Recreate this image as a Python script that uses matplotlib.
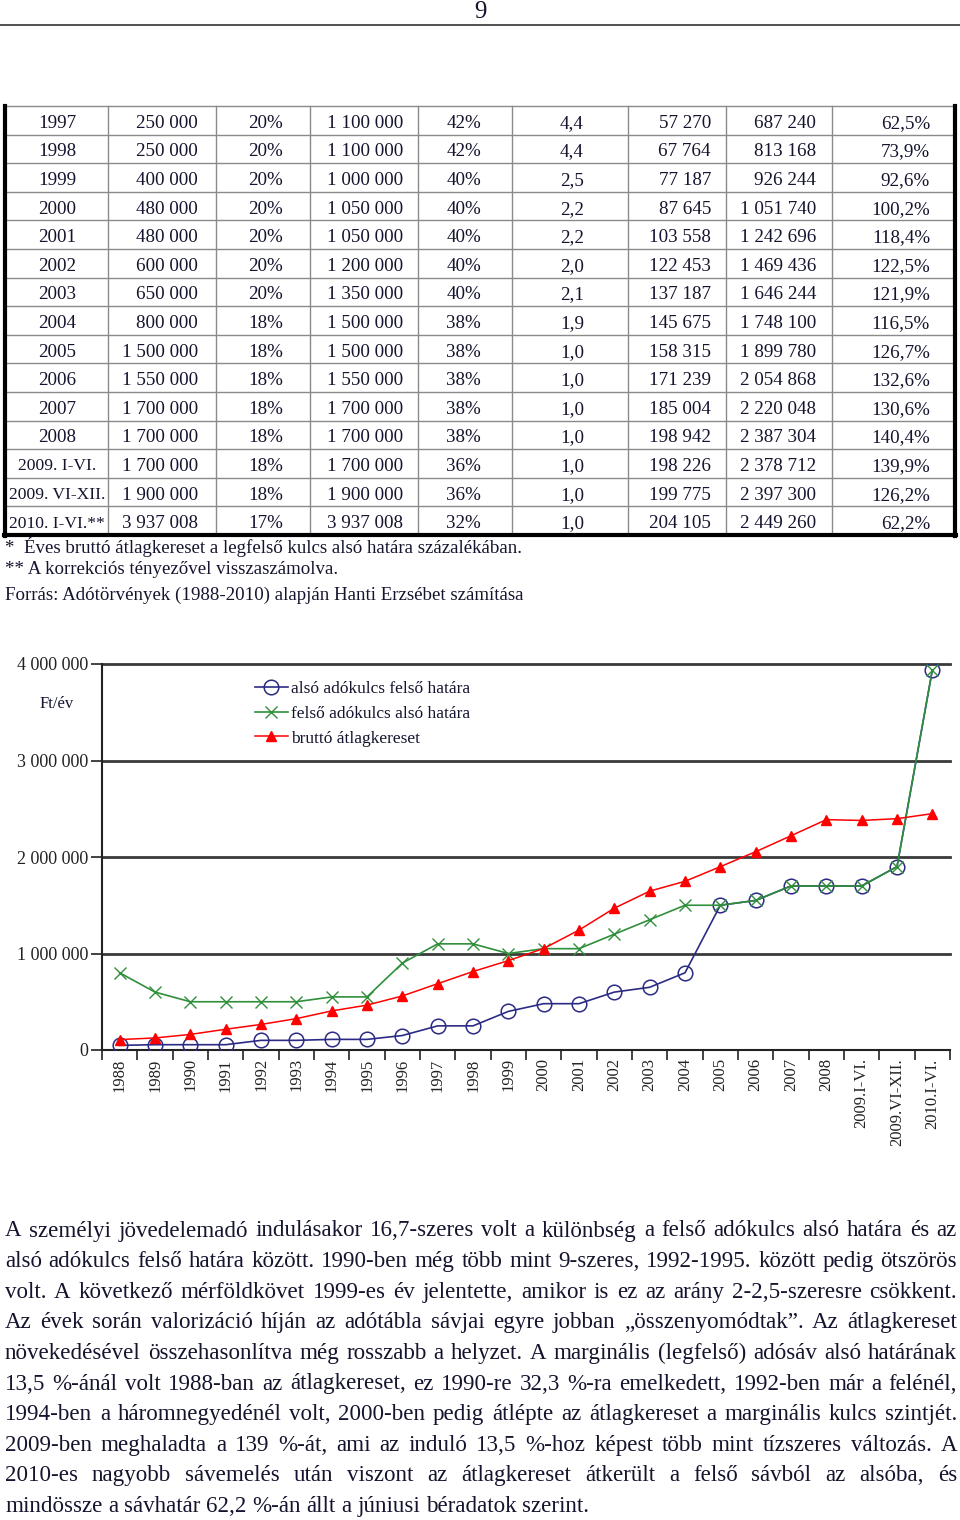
import matplotlib
matplotlib.use("Agg")
import matplotlib.pyplot as plt
from matplotlib.ticker import FixedLocator, FuncFormatter

plt.rcParams['font.family'] = ['Liberation Serif', 'DejaVu Serif']

TXT = '#14142e'

# ---- table data (1997 - 2010) ----
tab_year = ["1997", "1998", "1999", "2000", "2001", "2002", "2003", "2004", "2005",
            "2006", "2007", "2008", "2009. I-VI.", "2009. VI-XII.", "2010. I-VI.**"]
tab_lower_limit = ["250 000", "250 000", "400 000", "480 000", "480 000", "600 000", "650 000",
                   "800 000", "1 500 000", "1 550 000", "1 700 000", "1 700 000", "1 700 000",
                   "1 900 000", "3 937 008"]
tab_lower_rate = ["20%"] * 7 + ["18%"] * 7 + ["17%"]
tab_upper_limit = ["1 100 000", "1 100 000", "1 000 000", "1 050 000", "1 050 000", "1 200 000",
                   "1 350 000", "1 500 000", "1 500 000", "1 550 000", "1 700 000", "1 700 000",
                   "1 700 000", "1 900 000", "3 937 008"]
tab_upper_rate = ["42%", "42%", "40%", "40%", "40%", "40%", "40%", "38%", "38%", "38%", "38%",
                  "38%", "36%", "36%", "32%"]
tab_ratio = ["4,4", "4,4", "2,5", "2,2", "2,2", "2,0", "2,1", "1,9", "1,0", "1,0", "1,0", "1,0",
             "1,0", "1,0", "1,0"]
tab_monthly = ["57 270", "67 764", "77 187", "87 645", "103 558", "122 453", "137 187", "145 675",
               "158 315", "171 239", "185 004", "198 942", "198 226", "199 775", "204 105"]
tab_yearly = ["687 240", "813 168", "926 244", "1 051 740", "1 242 696", "1 469 436", "1 646 244",
              "1 748 100", "1 899 780", "2 054 868", "2 220 048", "2 387 304", "2 378 712",
              "2 397 300", "2 449 260"]
tab_percent = ["62,5%", "73,9%", "92,6%", "100,2%", "118,4%", "122,5%", "121,9%", "116,5%",
               "126,7%", "132,6%", "130,6%", "140,4%", "139,9%", "126,2%", "62,2%"]

footnotes = ["*  Éves bruttó átlagkereset a legfelső kulcs alsó határa százalékában.",
             "** A korrekciós tényezővel visszaszámolva.",
             "Forrás: Adótörvények (1988-2010) alapján Hanti Erzsébet számítása"]

# ---- chart data ----
periods = ["1988", "1989", "1990", "1991", "1992", "1993", "1994", "1995", "1996", "1997",
           "1998", "1999", "2000", "2001", "2002", "2003", "2004", "2005", "2006", "2007",
           "2008", "2009.I-VI.", "2009.VI-XII.", "2010.I-VI."]
lower_band_top = [48000, 55000, 55000, 55000, 100000, 100000, 110000, 110000, 150000, 250000,
                  250000, 400000, 480000, 480000, 600000, 650000, 800000, 1500000, 1550000,
                  1700000, 1700000, 1700000, 1900000, 3937008]
upper_band_bottom = [800000, 600000, 500000, 500000, 500000, 500000, 550000, 550000, 900000,
                     1100000, 1100000, 1000000, 1050000, 1050000, 1200000, 1350000, 1500000,
                     1500000, 1550000, 1700000, 1700000, 1700000, 1900000, 3937008]
gross_wage = [108000, 125000, 161500, 215000, 265000, 325000, 405000, 465000, 560000, 687240,
              813168, 926244, 1051740, 1242696, 1469436, 1646244, 1748100, 1899780, 2054868,
              2220048, 2387304, 2378712, 2397300, 2449260]
series_names = ["alsó adókulcs felső határa", "felső adókulcs alsó határa", "bruttó átlagkereset"]

body_lines = [
    "A személyi jövedelemadó indulásakor 16,7-szeres volt a különbség a felső adókulcs alsó határa és az",
    "alsó adókulcs felső határa között. 1990-ben még több mint 9-szeres, 1992-1995. között pedig ötszörös",
    "volt. A következő mérföldkövet 1999-es év jelentette, amikor is ez az arány 2-2,5-szeresre csökkent.",
    "Az évek során valorizáció híján az adótábla sávjai egyre jobban „összenyomódtak”. Az átlagkereset",
    "növekedésével összehasonlítva még rosszabb a helyzet. A marginális (legfelső) adósáv alsó határának",
    "13,5 %-ánál volt 1988-ban az átlagkereset, ez 1990-re 32,3 %-ra emelkedett, 1992-ben már a felénél,",
    "1994-ben a háromnegyedénél volt, 2000-ben pedig átlépte az átlagkereset a marginális kulcs szintjét.",
    "2009-ben meghaladta a 139 %-át, ami az induló 13,5 %-hoz képest több mint tízszeres változás. A",
    "2010-es nagyobb sávemelés után viszont az átlagkereset átkerült a felső sávból az alsóba, és",
    "mindössze a sávhatár 62,2 %-án állt a júniusi béradatok szerint.",
]

W, H = 960, 1520
fig = plt.figure(figsize=(W / 100, H / 100), dpi=100)
page = fig.add_axes([0, 0, 1, 1])
page.set_xlim(0, W)
page.set_ylim(H, 0)
page.axis('off')

# header
page.text(480, 12, "9", ha='center', va='center', fontsize=18, color=TXT)
page.plot([0, W], [25, 25], color='#333333', lw=1.2)

# ---- table ----
top, row_h = 106, 28.6
n = len(tab_year)
bottom = top + n * row_h
col_edges = [5, 108, 216, 310, 418, 512, 628, 726, 832, 955]
for i in range(n + 1):
    page.plot([5, 955], [top + i * row_h] * 2, color='#8a8a8a', lw=1)
for x in col_edges[1:-1]:
    page.plot([x, x], [top, bottom], color='#8a8a8a', lw=1)
page.plot([5, 5], [top, bottom + 1], color='black', lw=3)
page.plot([955, 955], [top, bottom + 1], color='black', lw=3)
page.plot([4, 956], [bottom, bottom], color='black', lw=3)

columns = [tab_year, tab_lower_limit, tab_lower_rate, tab_upper_limit, tab_upper_rate,
           tab_ratio, tab_monthly, tab_yearly, tab_percent]
anchors = [(57, 'center'), (198, 'right'), (283, 'right'), (403, 'right'), (481, 'right'),
           (572, 'center'), (711, 'right'), (816, 'right'), (930, 'right')]
for ci, (col, (x, ha)) in enumerate(zip(columns, anchors)):
    for i, s in enumerate(col):
        fs = 13.7
        if ci == 0 and len(s) > 10:
            fs = 12.6
        page.text(x, top + (i + 0.5) * row_h + 3, s, ha=ha, va='center',
                  fontsize=fs, color=TXT)

for y, s in zip([547, 569, 595], footnotes):
    page.text(5, y, s, ha='left', va='center', fontsize=13.6, color=TXT)

# ---- chart ----
ax = fig.add_axes([102 / W, 1 - 1050 / H, 848 / W, 386 / H])
x = list(range(len(periods)))
ax.plot(x, lower_band_top, color='#2b2b85', lw=1.2, marker='o', ms=10.5,
        mfc='none', mew=1.1, label=series_names[0], zorder=3)
ax.plot(x, upper_band_bottom, color='#2f8f3a', lw=1.2, marker='x', ms=9,
        mew=1.0, label=series_names[1], zorder=4)
ax.plot(x, gross_wage, color='#ff0000', lw=1.1, marker='^', ms=7.5,
        label=series_names[2], zorder=5)

ax.set_xlim(-0.5, len(periods) - 0.5)
ax.set_ylim(0, 4000000)
for v in [1000000, 2000000, 3000000, 4000000]:
    ax.axhline(v, color='#3a3a3a', lw=2, zorder=1, clip_on=False)
for s in ['top', 'right']:
    ax.spines[s].set_visible(False)
for s in ['left', 'bottom']:
    ax.spines[s].set_color('#222222')
    ax.spines[s].set_linewidth(1.5)

ax.set_yticks([0, 1000000, 2000000, 3000000, 4000000])
ax.yaxis.set_major_formatter(FuncFormatter(lambda v, p: f"{int(v):,}".replace(",", " ")))
ax.tick_params(axis='y', length=8, width=1.2, labelsize=13, colors='#222222', pad=2)

ax.xaxis.set_major_locator(FixedLocator([i - 0.5 for i in range(len(periods) + 1)]))
ax.xaxis.set_major_formatter(FuncFormatter(lambda v, p: ""))
ax.xaxis.set_minor_locator(FixedLocator(x))
ax.set_xticklabels(periods, minor=True, rotation=90, fontsize=12, color='#222222')
ax.tick_params(axis='x', which='major', length=7, width=1.2, color='#222222')
ax.tick_params(axis='x', which='minor', length=0, pad=6)

page.text(57, 704, "Ft/év", ha='center', va='center', fontsize=12, color=TXT)

ax.legend(loc='upper left', bbox_to_anchor=(246 / W, 1 - 672 / H),
          bbox_transform=fig.transFigure, frameon=False, fontsize=12.5,
          handlelength=1.9, handletextpad=0.2, labelspacing=0.5, borderpad=0,
          labelcolor=TXT)

# ---- justified body text ----
renderer = fig.canvas.get_renderer()
BODY_FS = 16.6
left, right = 5, 957
y0, dy = 1231, 30.6
probe1 = page.text(0, 0, "a a", fontsize=BODY_FS)
probe2 = page.text(0, 0, "aa", fontsize=BODY_FS)
space = probe1.get_window_extent(renderer).width - probe2.get_window_extent(renderer).width
probe1.remove()
probe2.remove()
for li, line in enumerate(body_lines):
    y = y0 + li * dy
    words = line.split(" ")
    texts = [page.text(0, y, w, ha='left', va='center', fontsize=BODY_FS, color=TXT)
             for w in words]
    widths = [t.get_window_extent(renderer).width for t in texts]
    if li == len(body_lines) - 1:
        gap = space
    else:
        gap = (right - left - sum(widths)) / (len(words) - 1)
    xpos = left
    for t, wdt in zip(texts, widths):
        t.set_x(xpos)
        xpos += wdt + gap

fig.savefig("out.png", dpi=100)
